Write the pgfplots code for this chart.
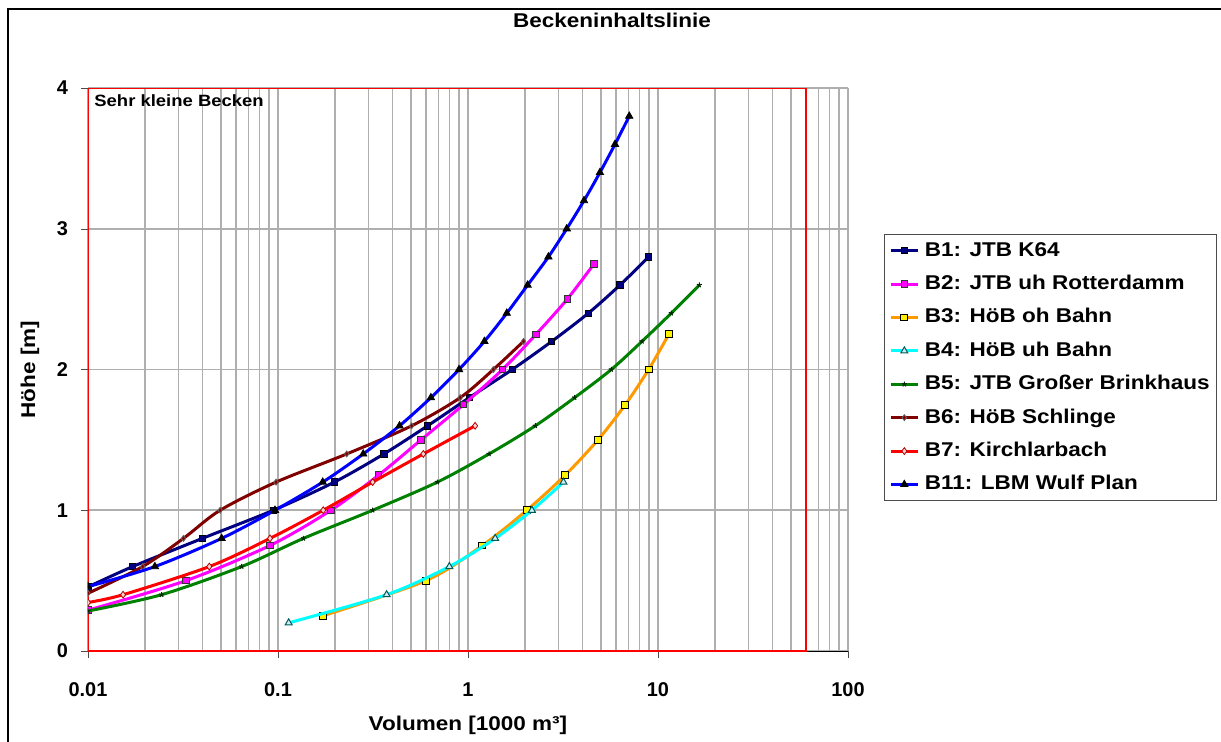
\documentclass[border=0pt]{standalone}
\usepackage{fontspec}
\usepackage{pgfplots}
\pgfplotsset{compat=1.18}
\setmainfont{Liberation Sans}[FakeStretch=1.13]
\newfontfamily\tickfont{Liberation Sans}
\definecolor{xnavy}{RGB}{0,0,128}
\definecolor{xmagenta}{RGB}{255,0,255}
\definecolor{xorange}{RGB}{255,153,0}
\definecolor{xcyan}{RGB}{0,255,255}
\definecolor{xgreen}{RGB}{0,128,0}
\definecolor{xmaroon}{RGB}{128,0,0}
\definecolor{xred}{RGB}{255,0,0}
\definecolor{xblue}{RGB}{0,0,255}
\definecolor{gridgray}{RGB}{175,175,175}
\newcommand\lbl{\fontsize{10}{12}\selectfont\bfseries}
\begin{document}
\begin{tikzpicture}
\begin{axis}[
  at={(0,0)}, anchor=south west,
  scale only axis, width=380bp, height=281.5bp,
  xmode=log, xmin=0.01, xmax=100, ymin=0, ymax=4,
  xtick={0.01,0.1,1,10,100}, xticklabels={0.01,0.1,1,10,100},
  ytick={0,1,2,3,4},
  axis x line=bottom, axis y line=left,
  axis line style={black,-},
  tick align=outside, major tick length=3.5bp, minor tick length=0pt,
  tick style={black!70},
  grid=both,
  xminorgrids=true, yminorgrids=false,
  major grid style={gridgray, line width=0.8bp},
  minor grid style={gridgray, line width=0.8bp},
  /pgf/number format/assume math mode=true,
  ticklabel style={font=\tickfont\fontsize{10}{12}\selectfont\bfseries},
  xticklabel style={yshift=-9bp},
  yticklabel style={xshift=-3bp},
  xlabel={Volumen [1000 m³]},
  ylabel={Höhe [m]},
  label style={font=\lbl},
  xlabel style={at={(axis description cs:0.5,-0.1314)}, anchor=center},
  ylabel style={at={(axis description cs:-0.0763,0.5)}, anchor=center},
  clip marker paths=true,
  every axis plot/.append style={line width=1.5bp, smooth},
  legend style={at={(axis description cs:1.4855,0.7407)}, anchor=north east,
    draw=black!70, fill=white, font=\lbl, inner sep=2.6bp,
    row sep=5.6bp, column sep=2bp,
    nodes={inner sep=0.8bp, text height=7.5bp, text depth=2bp}},
  legend cell align=left,
  legend image code/.code={\draw[mark repeat=2,mark phase=2,#1] plot coordinates {(0bp,0bp) (6.75bp,0bp) (13.5bp,0bp)};},
]
\draw[xred, line width=1bp] (axis cs:0.01,0) rectangle (axis cs:60,4);
\node[anchor=north west, inner sep=0pt, font=\fontsize{8.2}{10}\selectfont\bfseries] at (axis cs:0.01,4) [xshift=3bp, yshift=-3bp] {Sehr kleine Becken};

\addplot[color=xnavy, mark=square*, mark size=1.6bp, mark options={fill=xnavy, draw=black, line width=0.5bp}] coordinates {
(0.01,0.455) (0.0172,0.6) (0.040,0.8) (0.0945,1.0) (0.198,1.2) (0.361,1.4) (0.613,1.6) (1.016,1.8) (1.71,2.0) (2.76,2.2) (4.30,2.4) (6.31,2.6) (8.93,2.8)};
\addlegendentry{B1: JTB K64}

\addplot[color=xmagenta, mark=square*, mark size=1.6bp, mark options={fill=xmagenta, draw=black!80, line width=0.5bp}] coordinates {
(0.01,0.29) (0.0328,0.5) (0.0908,0.75) (0.190,1.0) (0.339,1.25) (0.566,1.5) (0.945,1.75) (1.52,2.0) (2.28,2.25) (3.33,2.5) (4.60,2.75)};
\addlegendentry{B2: JTB uh Rotterdamm}

\addplot[color=xorange, mark=square*, mark size=1.7bp, mark options={fill=yellow, draw=black, line width=0.5bp}] coordinates {
(0.172,0.25) (0.601,0.5) (1.19,0.75) (2.04,1.0) (3.25,1.25) (4.83,1.5) (6.73,1.75) (8.93,2.0) (11.4,2.25)};
\addlegendentry{B3: HöB oh Bahn}

\addplot[color=xcyan, mark=triangle*, mark size=2bp, mark options={fill=cyan!20!white, draw=teal!70!black, line width=0.5bp}] coordinates {
(0.1138,0.2) (0.373,0.4) (0.798,0.6) (1.39,0.8) (2.17,1.0) (3.18,1.2)};
\addlegendentry{B4: HöB uh Bahn}

\addplot[color=xgreen, mark=star, mark size=1.3bp, mark options={draw=black!70!xgreen, line width=0.5bp}] coordinates {
(0.01,0.284) (0.0244,0.4) (0.0644,0.6) (0.136,0.8) (0.315,1.0) (0.690,1.2) (1.29,1.4) (2.26,1.6) (3.64,1.8) (5.68,2.0) (8.24,2.2) (11.75,2.4) (16.5,2.6)};
\addlegendentry{B5: JTB Großer Brinkhaus}

\addplot[color=xmaroon, mark=diamond*, mark size=1.5bp, mark options={fill=xmaroon, draw=black!60, line width=0.4bp}] coordinates {
(0.01,0.41) (0.0194,0.6) (0.0318,0.8) (0.0496,1.0) (0.0977,1.2) (0.230,1.4) (0.505,1.6) (0.91,1.8) (1.36,2.0) (1.96,2.2)};
\addlegendentry{B6: HöB Schlinge}

\addplot[color=xred, mark=diamond*, mark size=1.7bp, mark options={fill=pink!70!white, draw=red!70!black, line width=0.4bp}] coordinates {
(0.01,0.345) (0.0153,0.4) (0.0435,0.6) (0.0908,0.8) (0.173,1.0) (0.315,1.2) (0.582,1.4) (1.09,1.6)};
\addlegendentry{B7: Kirchlarbach}

\addplot[color=xblue, mark=triangle*, mark size=2.1bp, mark options={fill=black, draw=black, line width=0.4bp}] coordinates {
(0.01,0.457) (0.0225,0.6) (0.0505,0.8) (0.0964,1.0) (0.172,1.2) (0.281,1.4) (0.436,1.6) (0.638,1.8) (0.897,2.0) (1.22,2.2) (1.60,2.4) (2.06,2.6) (2.65,2.8) (3.31,3.0) (4.08,3.2) (4.95,3.4) (5.94,3.6) (7.06,3.8)};
\addlegendentry{B11: LBM Wulf Plan}
\end{axis}
\node[font=\lbl] at (262bp,315.5bp) {Beckeninhaltslinie};
\draw[black, line width=1bp] (-40bp,-45.5bp) -- (-40bp,321bp) -- (566.5bp,321bp);
\pgfresetboundingbox
\path[use as bounding box] (-44bp,-45.5bp) rectangle (566.5bp,325.5bp);
\end{tikzpicture}
\end{document}
